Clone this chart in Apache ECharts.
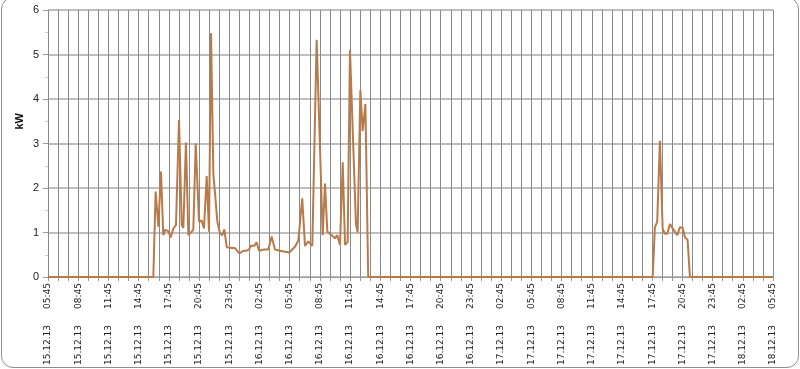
<!DOCTYPE html>
<html>
<head>
<meta charset="utf-8">
<script src="https://cdn.jsdelivr.net/npm/echarts@6/dist/echarts.min.js"></script>
<style>
html,body{margin:0;padding:0;background:#fff;}
#wrap{position:relative;width:800px;height:369px;overflow:hidden;}
#chart{position:absolute;left:0;top:0;width:800px;height:369px;}
#frame{position:absolute;left:1px;top:-3px;width:796px;height:369px;border:1px solid #8f8f8f;border-radius:12px;pointer-events:none;}
</style>
</head>
<body>
<div id="wrap"><div id="chart"></div><div id="frame"></div></div>
<script>
// hours since 15.12.13 05:45
var hours = [0, 10.46, 10.69, 10.96, 11.22, 11.45, 11.62, 11.95, 12.18, 12.45, 12.71, 13.01, 13.28, 13.44, 13.70, 13.94, 14.43, 14.67, 15.0, 15.26, 15.49, 15.76, 15.99, 16.19, 16.42, 16.82, 17.08, 17.31, 17.51, 17.75, 18.24, 18.57, 18.74, 19.0, 19.4, 19.73, 19.96, 20.16, 20.49, 20.72, 20.95, 21.45, 21.88, 22.21, 22.54, 22.97, 23.96, 24.53, 24.86, 25.02, 25.25, 25.52, 25.85, 26.02, 26.25, 26.68, 27.28, 27.51, 27.74, 28.17, 28.5, 28.73, 29.0, 29.27, 29.5, 29.76, 29.99, 30.58, 30.75, 31.02, 31.25, 31.52, 31.8, 60.05, 60.27, 60.5, 60.77, 61.04, 61.27, 61.5, 61.77, 62.1, 62.49, 62.76, 63.03, 63.26, 63.52, 63.75, 72];
var kw = [0, 0, 1.92, 1.13, 2.37, 0.94, 1.06, 1.03, 0.89, 1.09, 1.17, 3.53, 1.17, 1.1, 3.02, 0.94, 1.06, 3.0, 1.24, 1.27, 1.09, 2.27, 1.02, 5.48, 2.33, 1.24, 0.98, 0.94, 1.07, 0.67, 0.65, 0.65, 0.63, 0.53, 0.59, 0.59, 0.62, 0.7, 0.7, 0.78, 0.59, 0.62, 0.62, 0.91, 0.62, 0.59, 0.55, 0.68, 0.82, 0.83, 1.77, 0.7, 0.8, 0.8, 0.7, 5.33, 0.94, 2.1, 1.02, 0.94, 0.87, 0.94, 0.72, 2.58, 0.72, 0.79, 5.1, 1.2, 1.0, 4.2, 3.28, 3.89, 0, 0, 1.12, 1.24, 3.06, 1.09, 0.97, 0.97, 1.19, 1.07, 0.94, 1.12, 1.1, 0.89, 0.83, 0, 0];
var yTicks = [0, 1, 2, 3, 4, 5, 6];
var startTime = new Date(2013, 11, 15, 5, 45).getTime();
var yName = 'kW';

function pad(n){ return (n < 10 ? '0' : '') + n; }
function fmt(v){
  if (Math.round(v) % 3 !== 0) return '';
  var d = new Date(startTime + v * 3600000);
  var ds = pad(d.getDate()) + '.' + pad(d.getMonth() + 1) + '.' + String(d.getFullYear()).slice(2);
  var ts = pad(d.getHours()) + ':' + pad(d.getMinutes());
  return '{d|' + ds + '}{g|}{t|' + ts + '}';
}

var data = hours.map(function(h, i){ return [h, kw[i]]; });
var chart = echarts.init(document.getElementById('chart'), null, {renderer: 'canvas'});
chart.setOption({
  animation: false,
  backgroundColor: '#fff',
  grid: {left: 48, right: 27, top: 10, bottom: 92, containLabel: false},
  xAxis: {
    type: 'value', min: 0, max: 72, interval: 1,
    axisLine: {show: true, lineStyle: {color: '#999', width: 1}},
    axisTick: {show: true, length: 4, lineStyle: {color: '#999'}},
    splitLine: {show: true, lineStyle: {color: '#8a8a8a', width: 1}},
    axisLabel: {
      rotate: 90, margin: 6, formatter: fmt,
      color: '#222', fontFamily: 'DejaVu Sans', fontSize: 9,
      rich: {
        d: {fontFamily: 'DejaVu Sans', fontSize: 9, color: '#222'},
        g: {width: 16},
        t: {fontFamily: 'DejaVu Sans', fontSize: 9, color: '#222'}
      }
    }
  },
  yAxis: {
    type: 'value', min: yTicks[0], max: yTicks[yTicks.length - 1], interval: 1,
    axisLine: {show: false},
    axisTick: {show: true, length: 5, lineStyle: {color: '#999'}},
    minorTick: {show: true, splitNumber: 2, length: 3, lineStyle: {color: '#ccc'}},
    splitLine: {show: true, lineStyle: {color: '#a8a8a8', width: 1.5}},
    axisLabel: {margin: 9, color: '#222', fontFamily: 'Liberation Sans', fontSize: 11}
  },
  graphic: [{
    type: 'text', left: 14, top: 113, rotation: Math.PI / 2,
    style: {text: yName, font: 'bold 11px "Liberation Sans"', fill: '#111'}
  }],
  series: [{
    type: 'line', data: data, showSymbol: false, symbol: 'none',
    lineStyle: {color: '#b97a4a', width: 2},
    itemStyle: {color: '#b97a4a'}
  }]
});
</script>
</body>
</html>
